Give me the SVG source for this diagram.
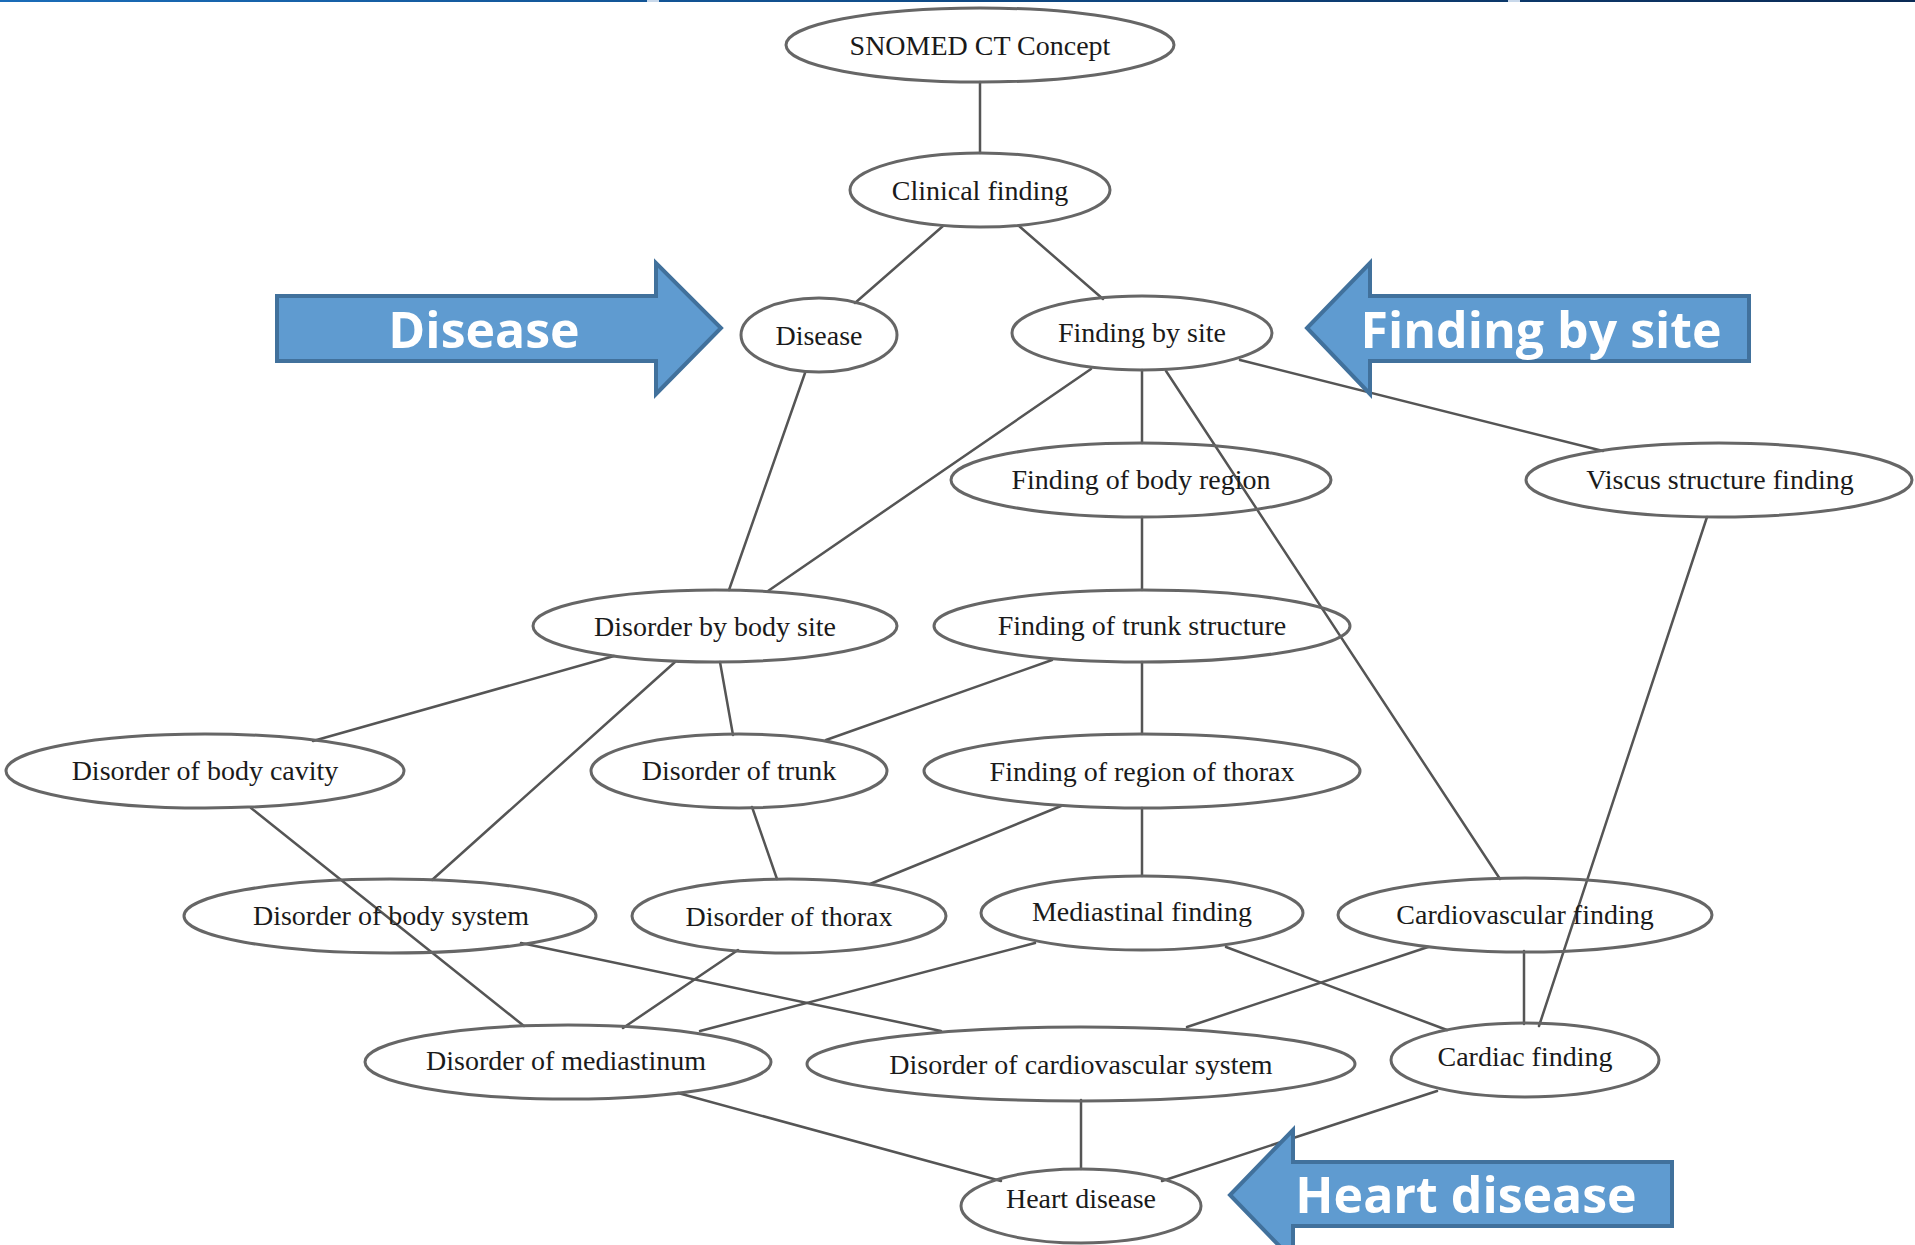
<svg xmlns="http://www.w3.org/2000/svg" width="1915" height="1245" viewBox="0 0 1915 1245">
<defs>
<linearGradient id="topbar" x1="0" y1="0" x2="1" y2="0">
<stop offset="0" stop-color="#1a6cb8"/>
<stop offset="0.5" stop-color="#0f4a86"/>
<stop offset="1" stop-color="#0a2a55"/>
</linearGradient>
<style>
.n ellipse { fill: none; stroke: #666666; stroke-width: 3; }
.n text { font-family: "Liberation Serif", "Times New Roman", serif; font-size: 28px; fill: #1a1a1a; text-anchor: middle; }
#edges line { stroke: #555555; stroke-width: 2.5; stroke-linecap: round; }
.arrow polygon { fill: #5f9bd0; stroke: #41719c; stroke-width: 4; stroke-linejoin: miter; }
.arrow text { font-family: "Open Sans", "Noto Sans", sans-serif; font-weight: bold; font-size: 50px; fill: #ffffff; text-anchor: middle; }
</style>
</defs>
<rect x="0" y="0" width="1915" height="1245" fill="#ffffff"/>
<rect x="0" y="0" width="1915" height="2" fill="url(#topbar)"/>
<rect x="647" y="0" width="12" height="2" fill="#c8d8ea"/>
<rect x="1508" y="0" width="12" height="2" fill="#c8d8ea"/>

<g id="edges">
<line x1="980" y1="82" x2="980" y2="153"/>
<line x1="943" y1="226" x2="855" y2="303"/>
<line x1="1019" y1="226" x2="1103" y2="299"/>
<line x1="805" y1="373" x2="729" y2="590"/>
<line x1="1091" y1="369" x2="768" y2="591"/>
<line x1="1142" y1="370" x2="1142" y2="443"/>
<line x1="1166" y1="371" x2="1500" y2="879"/>
<line x1="1240" y1="360" x2="1603" y2="451"/>
<line x1="1142" y1="517" x2="1142" y2="590"/>
<line x1="1707" y1="517" x2="1539" y2="1026"/>
<line x1="614" y1="656" x2="313" y2="741"/>
<line x1="675" y1="662" x2="432" y2="880"/>
<line x1="720" y1="662" x2="733" y2="735"/>
<line x1="1052" y1="660" x2="826" y2="740"/>
<line x1="1142" y1="662" x2="1142" y2="734"/>
<line x1="251" y1="808" x2="524" y2="1026"/>
<line x1="752" y1="807" x2="777" y2="879"/>
<line x1="1061" y1="806" x2="870" y2="884"/>
<line x1="1142" y1="808" x2="1142" y2="876"/>
<line x1="521" y1="943" x2="941" y2="1031"/>
<line x1="738" y1="950" x2="623" y2="1028"/>
<line x1="1035" y1="943" x2="700" y2="1031"/>
<line x1="1226" y1="947" x2="1447" y2="1030"/>
<line x1="1428" y1="947" x2="1187" y2="1027"/>
<line x1="1524" y1="951" x2="1524" y2="1024"/>
<line x1="678" y1="1093" x2="1001" y2="1181"/>
<line x1="1081" y1="1100" x2="1081" y2="1169"/>
<line x1="1437" y1="1091" x2="1162" y2="1181"/>
</g>

<g id="n-snomed" class="n"><ellipse cx="980" cy="45" rx="194" ry="37"/><text x="980" y="55">SNOMED CT Concept</text></g>
<g id="n-clinical" class="n"><ellipse cx="980" cy="190" rx="130" ry="37"/><text x="980" y="200">Clinical finding</text></g>
<g id="n-disease" class="n"><ellipse cx="819" cy="335" rx="78" ry="37"/><text x="819" y="345">Disease</text></g>
<g id="n-findingbysite" class="n"><ellipse cx="1142" cy="333" rx="130" ry="37"/><text x="1142" y="342">Finding by site</text></g>
<g id="n-bodyregion" class="n"><ellipse cx="1141" cy="480" rx="190" ry="37"/><text x="1141" y="489">Finding of body region</text></g>
<g id="n-viscus" class="n"><ellipse cx="1719" cy="480" rx="193" ry="37"/><text x="1720" y="489">Viscus structure finding</text></g>
<g id="n-disbodysite" class="n"><ellipse cx="715" cy="626" rx="182" ry="36"/><text x="715" y="636">Disorder by body site</text></g>
<g id="n-trunkstructure" class="n"><ellipse cx="1142" cy="626" rx="208" ry="36"/><text x="1142" y="635">Finding of trunk structure</text></g>
<g id="n-bodycavity" class="n"><ellipse cx="205" cy="771" rx="199" ry="37"/><text x="205" y="780">Disorder of body cavity</text></g>
<g id="n-distrunk" class="n"><ellipse cx="739" cy="771" rx="148" ry="37"/><text x="739" y="780">Disorder of trunk</text></g>
<g id="n-regionthorax" class="n"><ellipse cx="1142" cy="771" rx="218" ry="37"/><text x="1142" y="781">Finding of region of thorax</text></g>
<g id="n-bodysystem" class="n"><ellipse cx="390" cy="916" rx="206" ry="37"/><text x="391" y="925">Disorder of body system</text></g>
<g id="n-disthorax" class="n"><ellipse cx="789" cy="916" rx="157" ry="37"/><text x="789" y="926">Disorder of thorax</text></g>
<g id="n-mediastinal" class="n"><ellipse cx="1142" cy="913" rx="161" ry="37"/><text x="1142" y="921">Mediastinal finding</text></g>
<g id="n-cardiovascular" class="n"><ellipse cx="1525" cy="915" rx="187" ry="37"/><text x="1525" y="924">Cardiovascular finding</text></g>
<g id="n-dismediastinum" class="n"><ellipse cx="568" cy="1062" rx="203" ry="37"/><text x="566" y="1070">Disorder of mediastinum</text></g>
<g id="n-discardio" class="n"><ellipse cx="1081" cy="1064" rx="274" ry="37"/><text x="1081" y="1074">Disorder of cardiovascular system</text></g>
<g id="n-cardiac" class="n"><ellipse cx="1525" cy="1060" rx="134" ry="37"/><text x="1525" y="1066">Cardiac finding</text></g>
<g id="n-heart" class="n"><ellipse cx="1081" cy="1206" rx="120" ry="37"/><text x="1081" y="1208">Heart disease</text></g>

<g id="arrow-disease" class="arrow">
<polygon points="277,296 656,296 656,263 721,328 656,394 656,361 277,361"/>
<text x="484" y="348">Disease</text>
</g>
<g id="arrow-findingbysite" class="arrow">
<polygon points="1749,296 1370,296 1370,263 1307,328 1370,394 1370,361 1749,361"/>
<text x="1541" y="348">Finding by site</text>
</g>
<g id="arrow-heart" class="arrow">
<polygon points="1672,1162 1293,1162 1293,1130 1230,1195 1293,1260 1293,1226 1672,1226"/>
<text x="1466" y="1213">Heart disease</text>
</g>
</svg>
